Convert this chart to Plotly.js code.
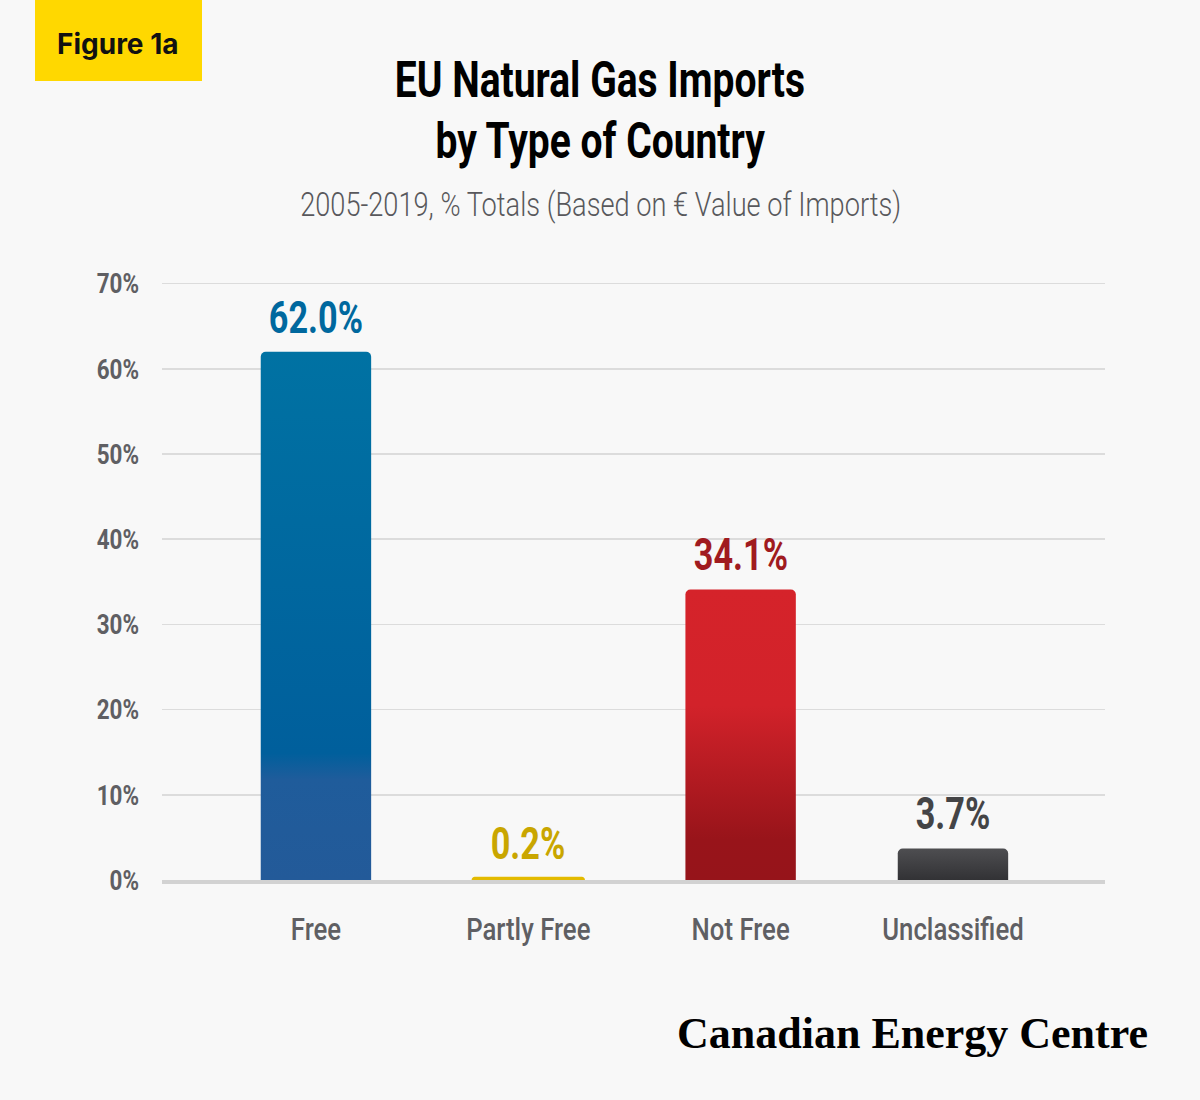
<!DOCTYPE html>
<html>
<head>
<meta charset="utf-8">
<script src="https://cdn.plot.ly/plotly-3.0.1.min.js"></script>
<style>
  html, body { margin: 0; padding: 0; background: #f8f8f8; }
  #chart { width: 1200px; height: 1100px; }
</style>
</head>
<body>
<div id="chart"></div>
<script>
// values (% of EU natural gas import value, 2005-2019)
const CATEGORIES = ['Free', 'Partly Free', 'Not Free', 'Unclassified'];
const SHARES = [62.0, 0.2, 34.1, 3.7];
const BAR_COLORS = ['#0068a0', '#e3ba00', '#c01d24', '#404043'];
const LABEL_COLORS = ['#00689e', '#c9a600', '#a01b1f', '#444446'];
const Y_TICKS = [0, 10, 20, 30, 40, 50, 60, 70];

// gradient stops per bar, [offset, colour]; Partly Free runs left to right
const BAR_GRADIENTS = [
  { dir: 'v', stops: [[0, '#0072a3'], [0.76, '#005f9c'], [0.81, '#1f5c9b'], [1, '#235a99']] },
  { dir: 'h', stops: [[0, '#ffd800'], [1, '#c9a300']] },
  { dir: 'v', stops: [[0, '#d5232a'], [0.4, '#d2222a'], [0.86, '#98141a'], [1, '#96141a']] },
  { dir: 'v', stops: [[0, '#4e4e51'], [1, '#323235']] },
];

const FONT = 'Roboto, "Liberation Sans", sans-serif';

// plot area in pixels, used to place the decorations that sit outside it
const PL = 162, PR = 1105, PT = 281, PB = 880;
const px = (x) => (x - PL) / (PR - PL);
const py = (y) => (PB - y) / (PB - PT);

const trace = {
  type: 'bar',
  x: CATEGORIES,
  y: SHARES,
  width: 0.52,
  marker: {
    color: BAR_COLORS,
    cornerradius: 5,
    // thin sliver bars get a stroke so they stay visible, as in the original
    line: { color: BAR_COLORS, width: SHARES.map((v) => (v < 1 ? 3 : 0)) },
  },
  hovertemplate: '%{x}: %{y:.1f}%<extra></extra>',
};

const valueLabels = CATEGORIES.map((c, i) => ({
  x: c, y: SHARES[i], xref: 'x', yref: 'y',
  text: SHARES[i].toFixed(1) + '%',
  showarrow: false, yanchor: 'bottom', yshift: 6,
  font: { family: FONT, size: 45, color: LABEL_COLORS[i], weight: 700 },
}));

const layout = {
  width: 1200, height: 1100,
  paper_bgcolor: '#f8f8f8', plot_bgcolor: '#f8f8f8',
  margin: { l: PL, r: 1200 - PR, t: PT, b: 1100 - PB, pad: 0 },
  showlegend: false,
  xaxis: {
    type: 'category',
    range: [-0.725, 3.716],
    showgrid: false, zeroline: false,
    showline: true, linecolor: '#d2d2d2', linewidth: 4,
    ticks: '', ticklabelstandoff: 19,
    tickfont: { family: FONT, size: 31, color: '#5f5f63', weight: 500 },
    fixedrange: true,
  },
  yaxis: {
    range: [0, 70.3],
    tickvals: Y_TICKS,
    ticktext: Y_TICKS.map((v) => v + '%'),
    showgrid: true, gridcolor: '#dcdcdc', gridwidth: 1.5,
    zeroline: false,
    showline: false, ticks: '', ticklabelstandoff: 22,
    tickfont: { family: FONT, size: 28, color: '#5f5f63', weight: 700 },
    fixedrange: true,
  },
  shapes: [{
    type: 'rect', xref: 'paper', yref: 'paper', layer: 'below',
    x0: px(35), x1: px(202), y0: py(81), y1: py(0),
    fillcolor: '#ffd800', line: { width: 0 },
  }],
  annotations: valueLabels.concat([
    {
      xref: 'paper', yref: 'paper', x: px(118), y: py(44),
      text: 'Figure 1a', showarrow: false, xanchor: 'center', yanchor: 'middle',
      font: { family: 'Inter, Roboto, sans-serif', size: 28, color: '#111', weight: 700 },
    },
    {
      xref: 'paper', yref: 'paper', x: px(600), y: py(80),
      text: 'EU Natural Gas Imports', showarrow: false, xanchor: 'center', yanchor: 'middle',
      font: { family: FONT, size: 50, color: '#000', weight: 700 },
    },
    {
      xref: 'paper', yref: 'paper', x: px(600), y: py(141),
      text: 'by Type of Country', showarrow: false, xanchor: 'center', yanchor: 'middle',
      font: { family: FONT, size: 50, color: '#000', weight: 700 },
    },
    {
      xref: 'paper', yref: 'paper', x: px(600), y: py(204),
      text: '2005-2019, % Totals (Based on \u20ac Value of Imports)',
      showarrow: false, xanchor: 'center', yanchor: 'middle',
      font: { family: FONT, size: 34, color: '#58585c', weight: 300 },
    },
    {
      xref: 'paper', yref: 'paper', x: px(1150), y: py(1033),
      text: 'Canadian Energy Centre',
      showarrow: false, xanchor: 'right', yanchor: 'middle',
      font: { family: '"Liberation Serif", "DejaVu Serif", serif', size: 44, color: '#000', weight: 700 },
    },
  ]),
};

// the original uses a condensed face; none is installed, so squeeze the glyphs
function squeeze(selector, factor) {
  document.querySelectorAll(selector).forEach((t) => {
    const w = t.getComputedTextLength();
    t.setAttribute('textLength', (w * factor).toFixed(1));
    t.setAttribute('lengthAdjust', 'spacingAndGlyphs');
  });
}

function paintGradients() {
  const NS = 'http://www.w3.org/2000/svg';
  const svg = document.querySelector('#chart .main-svg');
  let defs = svg.querySelector('defs');
  if (!defs) { defs = document.createElementNS(NS, 'defs'); svg.prepend(defs); }
  const bars = document.querySelectorAll('#chart .bars .point path');
  BAR_GRADIENTS.forEach((g, i) => {
    const lg = document.createElementNS(NS, 'linearGradient');
    lg.setAttribute('id', 'barGrad' + i);
    lg.setAttribute('x1', '0'); lg.setAttribute('y1', '0');
    lg.setAttribute('x2', g.dir === 'h' ? '1' : '0');
    lg.setAttribute('y2', g.dir === 'h' ? '0' : '1');
    g.stops.forEach(([o, c]) => {
      const s = document.createElementNS(NS, 'stop');
      s.setAttribute('offset', o);
      s.setAttribute('stop-color', c);
      lg.appendChild(s);
    });
    defs.appendChild(lg);
    if (bars[i]) bars[i].style.fill = 'url(#barGrad' + i + ')';
  });
}

Plotly.newPlot('chart', [trace], layout, { displayModeBar: false, staticPlot: true }).then(() => {
  paintGradients();
  squeeze('#chart .xtick text', 0.83);
  squeeze('#chart .ytick text', 0.8);
  [0, 1, 2, 3].forEach((i) => squeeze(`#chart .annotation[data-index="${i}"] text`, 0.76));
  [5, 6].forEach((i) => squeeze(`#chart .annotation[data-index="${i}"] text`, 0.78));
  squeeze('#chart .annotation[data-index="7"] text', 0.8);
});
</script>
</body>
</html>
